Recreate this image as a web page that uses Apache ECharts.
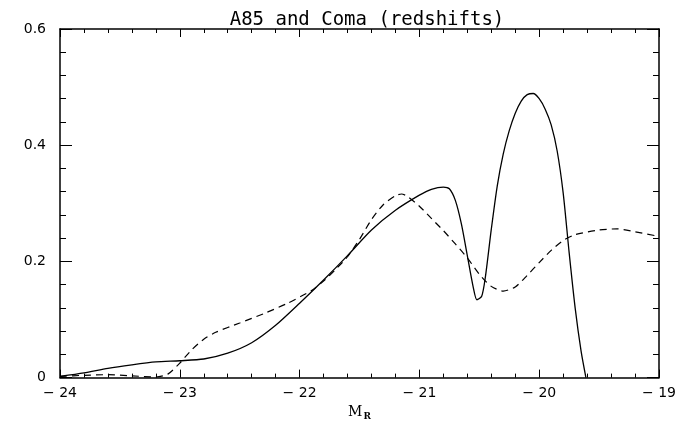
<!DOCTYPE html>
<html>
<head>
<meta charset="utf-8">
<script src="https://cdn.jsdelivr.net/npm/echarts@6/dist/echarts.min.js"></script>
<style>
html,body{margin:0;padding:0;background:#fff;}
#chart{width:696px;height:426px;}
</style>
</head>
<body>
<div id="chart"></div>
<script>
const titleText = 'A85 and Coma (redshifts)';
const xTicks = [-24, -23, -22, -21, -20, -19];
const yTicks = [0, 0.2, 0.4, 0.6];

const solidM = [-24, -23.8, -23.6, -23.4, -23.2, -23.0, -22.8, -22.6, -22.4, -22.2, -22.0, -21.8, -21.6, -21.4, -21.2, -21.0, -20.9, -20.8, -20.75, -20.7, -20.65, -20.6, -20.55, -20.52, -20.48, -20.45, -20.4, -20.35, -20.3, -20.25, -20.2, -20.15, -20.1, -20.05, -20.0, -19.95, -19.9, -19.85, -19.8, -19.75, -19.7, -19.65, -19.61];
const solidPhi = [0.002, 0.008, 0.016, 0.022, 0.027, 0.029, 0.032, 0.042, 0.060, 0.090, 0.128, 0.168, 0.210, 0.254, 0.288, 0.314, 0.324, 0.328, 0.325, 0.305, 0.265, 0.21, 0.155, 0.134, 0.14, 0.172, 0.255, 0.33, 0.385, 0.425, 0.455, 0.476, 0.487, 0.489, 0.480, 0.462, 0.435, 0.390, 0.318, 0.215, 0.12, 0.045, 0.0];

const dashedM = [-24, -23.8, -23.6, -23.4, -23.2, -23.1, -23.0, -22.9, -22.8, -22.7, -22.5, -22.3, -22.1, -21.9, -21.8, -21.7, -21.6, -21.5, -21.4, -21.3, -21.2, -21.15, -21.1, -21.0, -20.9, -20.8, -20.7, -20.6, -20.5, -20.4, -20.3, -20.2, -20.1, -20.0, -19.9, -19.8, -19.7, -19.5, -19.35, -19.2, -19.0];
const dashedPhi = [0.002, 0.004, 0.005, 0.003, 0.001, 0.006, 0.025, 0.048, 0.066, 0.078, 0.094, 0.110, 0.128, 0.150, 0.166, 0.186, 0.208, 0.238, 0.272, 0.298, 0.313, 0.316, 0.312, 0.295, 0.274, 0.253, 0.230, 0.206, 0.178, 0.157, 0.149, 0.156, 0.176, 0.198, 0.219, 0.236, 0.246, 0.254, 0.256, 0.251, 0.243];

const FONT = 'DejaVu Sans';
const chart = echarts.init(document.getElementById('chart'), null, {renderer: 'canvas'});

function xAxisDef(pos, showLabel) {
  return {
    type: 'value', position: pos, min: xTicks[0], max: xTicks[xTicks.length - 1], interval: 1,
    name: showLabel ? '{m|M}{r|R}' : '', nameLocation: 'middle', nameGap: 22,
    nameTextStyle: {rich: {
      m: {fontFamily: 'DejaVu Serif', fontSize: 14, color: '#000'},
      r: {fontFamily: 'DejaVu Serif', fontSize: 9, fontWeight: 'bold', color: '#000', padding: [8, 0, 0, 1]}
    }},
    axisLine: {show: true, onZero: false, lineStyle: {color: '#000', width: 1.5}},
    axisTick: {show: true, inside: true, length: 8, lineStyle: {color: '#000', width: 1}},
    minorTick: {show: true, splitNumber: 5, length: 4, lineStyle: {color: '#000', width: 1}},
    splitLine: {show: false}, minorSplitLine: {show: false},
    axisLabel: {show: showLabel, margin: 9, color: '#000', fontFamily: FONT, fontSize: 14,
      formatter: v => (v < 0 ? '\u2212 ' + Math.abs(v) : String(v))}
  };
}
function yAxisDef(pos, showLabel) {
  return {
    type: 'value', position: pos, min: yTicks[0], max: yTicks[yTicks.length - 1], interval: 0.2,
    axisLine: {show: true, onZero: false, lineStyle: {color: '#000', width: 1.5}},
    axisTick: {show: true, inside: true, length: 12, lineStyle: {color: '#000', width: 1}},
    minorTick: {show: true, splitNumber: 5, length: 6, lineStyle: {color: '#000', width: 1}},
    splitLine: {show: false}, minorSplitLine: {show: false},
    axisLabel: {show: showLabel, margin: 14, color: '#000', fontFamily: FONT, fontSize: 14,
      formatter: v => (v === 0 ? '0' : v.toFixed(1))}
  };
}

chart.setOption({
  animation: false,
  backgroundColor: '#fff',
  title: {text: titleText, left: 362, top: 6, textAlign: 'center',
    textStyle: {fontFamily: 'DejaVu Sans Mono', fontSize: 19, fontWeight: 'normal', color: '#000'}},
  grid: {left: 60, right: 37, top: 29, bottom: 42, containLabel: false},
  xAxis: [xAxisDef('bottom', true), xAxisDef('top', false)],
  yAxis: [yAxisDef('left', true), yAxisDef('right', false)],
  series: [
    {type: 'line', xAxisIndex: 0, yAxisIndex: 0, showSymbol: false, smooth: 0.25,
      data: solidM.map((m, i) => [m, solidPhi[i]]),
      lineStyle: {color: '#000', width: 1.3, type: 'solid'}},
    {type: 'line', xAxisIndex: 0, yAxisIndex: 0, showSymbol: false, smooth: 0.25,
      data: dashedM.map((m, i) => [m, dashedPhi[i]]),
      lineStyle: {color: '#000', width: 1.2, type: [7, 5]}}
  ]
});
</script>
</body>
</html>
